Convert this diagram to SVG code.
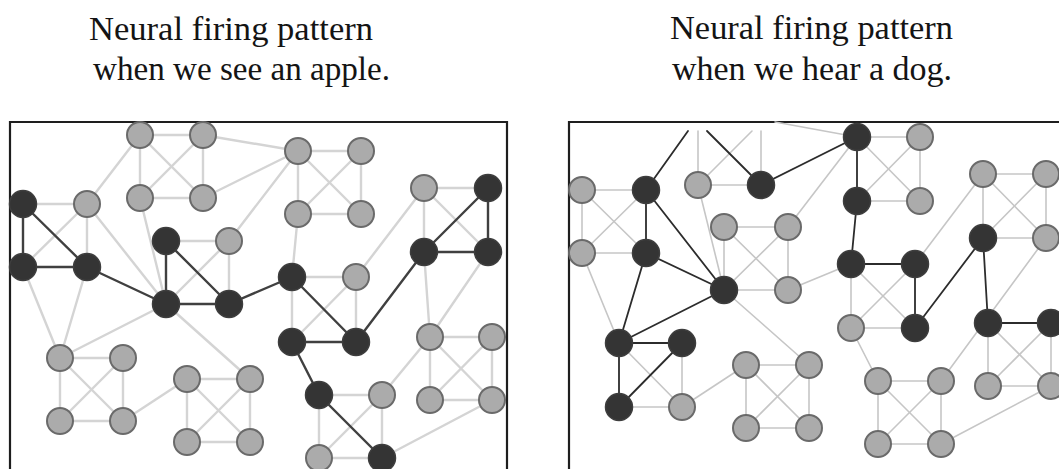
<svg xmlns="http://www.w3.org/2000/svg" width="1059" height="469" viewBox="0 0 1059 469">
<style>
.t{font-family:"Liberation Serif","Times New Roman",serif;font-size:33px;fill:#141414}
.frame{fill:none;stroke:#1e1e1e;stroke-width:2.2}
.ll line{stroke:#d4d4d4;stroke-width:2.4;stroke-linecap:round}
.ld line{stroke:#404040;stroke-width:2.4;stroke-linecap:round}
.rl line{stroke:#c6c6c6;stroke-width:1.6;stroke-linecap:round}
.rd line{stroke:#2c2c2c;stroke-width:1.8;stroke-linecap:round}
.g{fill:#ababab;stroke:#6a6a6a;stroke-width:2}
.d{fill:#343434;stroke:#3e3e3e;stroke-width:1.5}
</style>
<g id="titles">
<text class="t" x="89" y="40" textLength="284" lengthAdjust="spacingAndGlyphs">Neural firing pattern</text>
<text class="t" x="93" y="80" textLength="297" lengthAdjust="spacingAndGlyphs">when we see an apple.</text>
<text class="t" x="670" y="39" textLength="283" lengthAdjust="spacingAndGlyphs">Neural firing pattern</text>
<text class="t" x="672" y="80" textLength="280" lengthAdjust="spacingAndGlyphs">when we hear a dog.</text>
</g>
<g id="frames">
<path class="frame" d="M10,470 V122 H507 V470"/>
<path class="frame" d="M569,470 V122 H1060"/>
</g>
<g id="connectors">
<g class="ll">
<line x1="140" y1="135" x2="203" y2="135"/><line x1="140" y1="135" x2="140" y2="198"/><line x1="140" y1="135" x2="203" y2="198"/><line x1="203" y1="135" x2="140" y2="198"/><line x1="203" y1="135" x2="203" y2="198"/><line x1="140" y1="198" x2="203" y2="198"/>
<line x1="140" y1="135" x2="87" y2="204"/><line x1="203" y1="135" x2="298" y2="151"/><line x1="203" y1="198" x2="298" y2="151"/><line x1="229" y1="241" x2="298" y2="151"/><line x1="140" y1="198" x2="166" y2="304"/><line x1="87" y1="204" x2="166" y2="304"/>
<line x1="87" y1="204" x2="23" y2="204"/><line x1="87" y1="204" x2="87" y2="267"/><line x1="87" y1="204" x2="23" y2="267"/>
<line x1="166" y1="241" x2="229" y2="241"/><line x1="229" y1="241" x2="229" y2="304"/><line x1="229" y1="241" x2="166" y2="304"/>
<line x1="298" y1="151" x2="361" y2="151"/><line x1="298" y1="151" x2="298" y2="214"/><line x1="298" y1="151" x2="361" y2="214"/><line x1="361" y1="151" x2="298" y2="214"/><line x1="361" y1="151" x2="361" y2="214"/><line x1="298" y1="214" x2="361" y2="214"/><line x1="298" y1="214" x2="292" y2="277"/>
<line x1="424" y1="188" x2="488" y2="188"/><line x1="424" y1="188" x2="424" y2="252"/><line x1="424" y1="188" x2="488" y2="252"/><line x1="424" y1="188" x2="356" y2="277"/><line x1="424" y1="252" x2="430" y2="337"/><line x1="488" y1="252" x2="430" y2="337"/>
<line x1="292" y1="277" x2="356" y2="277"/><line x1="292" y1="277" x2="292" y2="342"/><line x1="356" y1="277" x2="292" y2="342"/><line x1="356" y1="277" x2="356" y2="342"/>
<line x1="60" y1="358" x2="123" y2="358"/><line x1="60" y1="358" x2="60" y2="421"/><line x1="60" y1="358" x2="123" y2="421"/><line x1="123" y1="358" x2="60" y2="421"/><line x1="123" y1="358" x2="123" y2="421"/><line x1="60" y1="421" x2="123" y2="421"/>
<line x1="23" y1="267" x2="60" y2="358"/><line x1="87" y1="267" x2="60" y2="358"/><line x1="60" y1="358" x2="166" y2="304"/><line x1="123" y1="421" x2="187" y2="379"/>
<line x1="187" y1="379" x2="250" y2="379"/><line x1="187" y1="379" x2="187" y2="442"/><line x1="187" y1="379" x2="250" y2="442"/><line x1="250" y1="379" x2="187" y2="442"/><line x1="250" y1="379" x2="250" y2="442"/><line x1="187" y1="442" x2="250" y2="442"/><line x1="166" y1="304" x2="250" y2="379"/>
<line x1="319" y1="395" x2="382" y2="395"/><line x1="319" y1="395" x2="319" y2="458"/><line x1="382" y1="395" x2="319" y2="458"/><line x1="382" y1="395" x2="382" y2="458"/><line x1="319" y1="458" x2="382" y2="458"/><line x1="382" y1="395" x2="430" y2="337"/><line x1="382" y1="458" x2="492" y2="400"/>
<line x1="430" y1="337" x2="492" y2="337"/><line x1="430" y1="337" x2="430" y2="400"/><line x1="430" y1="337" x2="492" y2="400"/><line x1="492" y1="337" x2="430" y2="400"/><line x1="492" y1="337" x2="492" y2="400"/><line x1="430" y1="400" x2="492" y2="400"/>
</g>
<g class="ld">
<line x1="23" y1="204" x2="23" y2="267"/><line x1="23" y1="204" x2="87" y2="267"/><line x1="23" y1="267" x2="87" y2="267"/><line x1="87" y1="267" x2="166" y2="304"/>
<line x1="166" y1="241" x2="166" y2="304"/><line x1="166" y1="241" x2="229" y2="304"/><line x1="166" y1="304" x2="229" y2="304"/><line x1="229" y1="304" x2="292" y2="277"/>
<line x1="292" y1="277" x2="356" y2="342"/><line x1="292" y1="342" x2="356" y2="342"/><line x1="356" y1="342" x2="424" y2="252"/><line x1="292" y1="342" x2="319" y2="395"/><line x1="319" y1="395" x2="382" y2="458"/>
<line x1="488" y1="188" x2="424" y2="252"/><line x1="488" y1="188" x2="488" y2="252"/><line x1="424" y1="252" x2="488" y2="252"/>
</g>
<g class="rl">
<line x1="582" y1="190" x2="646" y2="190"/><line x1="582" y1="190" x2="582" y2="253"/><line x1="582" y1="190" x2="646" y2="253"/><line x1="646" y1="190" x2="582" y2="253"/><line x1="582" y1="253" x2="646" y2="253"/><line x1="582" y1="253" x2="619" y2="343"/>
<line x1="698" y1="131" x2="698" y2="185"/><line x1="752" y1="131" x2="698" y2="185"/><line x1="761" y1="131" x2="761" y2="185"/><line x1="775" y1="122" x2="857" y2="137"/>
<line x1="698" y1="185" x2="761" y2="185"/><line x1="698" y1="185" x2="724" y2="290"/>
<line x1="724" y1="227" x2="788" y2="227"/><line x1="724" y1="227" x2="724" y2="290"/><line x1="724" y1="227" x2="788" y2="290"/><line x1="788" y1="227" x2="724" y2="290"/><line x1="788" y1="227" x2="788" y2="290"/><line x1="724" y1="290" x2="788" y2="290"/>
<line x1="788" y1="227" x2="857" y2="137"/><line x1="788" y1="290" x2="851" y2="264"/><line x1="724" y1="290" x2="809" y2="365"/>
<line x1="857" y1="137" x2="920" y2="137"/><line x1="857" y1="137" x2="920" y2="201"/><line x1="920" y1="137" x2="857" y2="201"/><line x1="920" y1="137" x2="920" y2="201"/><line x1="857" y1="201" x2="920" y2="201"/>
<line x1="851" y1="264" x2="851" y2="328"/><line x1="851" y1="264" x2="915" y2="328"/><line x1="915" y1="264" x2="851" y2="328"/><line x1="851" y1="328" x2="915" y2="328"/><line x1="915" y1="264" x2="983" y2="174"/><line x1="851" y1="328" x2="878" y2="381"/>
<line x1="983" y1="174" x2="1046" y2="174"/><line x1="983" y1="174" x2="983" y2="238"/><line x1="983" y1="174" x2="1046" y2="238"/><line x1="1046" y1="174" x2="983" y2="238"/><line x1="1046" y1="174" x2="1046" y2="238"/><line x1="983" y1="238" x2="1046" y2="238"/><line x1="1046" y1="238" x2="941" y2="381"/>
<line x1="988" y1="323" x2="988" y2="386"/><line x1="988" y1="323" x2="1051" y2="386"/><line x1="1051" y1="323" x2="988" y2="386"/><line x1="1051" y1="323" x2="1051" y2="386"/><line x1="988" y1="386" x2="1051" y2="386"/><line x1="1051" y1="386" x2="941" y2="444"/>
<line x1="878" y1="381" x2="941" y2="381"/><line x1="878" y1="381" x2="878" y2="444"/><line x1="878" y1="381" x2="941" y2="444"/><line x1="941" y1="381" x2="878" y2="444"/><line x1="941" y1="381" x2="941" y2="444"/><line x1="878" y1="444" x2="941" y2="444"/>
<line x1="619" y1="343" x2="682" y2="407"/><line x1="682" y1="343" x2="682" y2="407"/><line x1="619" y1="407" x2="682" y2="407"/><line x1="682" y1="407" x2="746" y2="365"/>
<line x1="746" y1="365" x2="809" y2="365"/><line x1="746" y1="365" x2="746" y2="428"/><line x1="746" y1="365" x2="809" y2="428"/><line x1="809" y1="365" x2="746" y2="428"/><line x1="809" y1="365" x2="809" y2="428"/><line x1="746" y1="428" x2="809" y2="428"/>
</g>
<g class="rd">
<line x1="688" y1="131" x2="646" y2="190"/><line x1="707" y1="131" x2="761" y2="185"/>
<line x1="646" y1="190" x2="646" y2="253"/><line x1="646" y1="190" x2="724" y2="290"/><line x1="646" y1="253" x2="724" y2="290"/><line x1="646" y1="253" x2="619" y2="343"/>
<line x1="761" y1="185" x2="857" y2="137"/><line x1="857" y1="137" x2="857" y2="201"/><line x1="857" y1="201" x2="851" y2="264"/><line x1="851" y1="264" x2="915" y2="264"/><line x1="915" y1="264" x2="915" y2="328"/><line x1="915" y1="328" x2="983" y2="238"/><line x1="983" y1="238" x2="988" y2="323"/><line x1="988" y1="323" x2="1051" y2="323"/>
<line x1="724" y1="290" x2="619" y2="343"/><line x1="619" y1="343" x2="682" y2="343"/><line x1="619" y1="343" x2="619" y2="407"/><line x1="682" y1="343" x2="619" y2="407"/>
</g>
</g>
<g id="L-A1"><circle class="g" cx="140" cy="135" r="13"/></g>
<g id="L-A2"><circle class="g" cx="203" cy="135" r="13"/></g>
<g id="L-A3"><circle class="g" cx="140" cy="198" r="13"/></g>
<g id="L-A4"><circle class="g" cx="203" cy="198" r="13"/></g>
<g id="L-D1"><circle class="d" cx="23" cy="204" r="13.5"/></g>
<g id="L-G1"><circle class="g" cx="87" cy="204" r="13"/></g>
<g id="L-D2"><circle class="d" cx="23" cy="267" r="13.5"/></g>
<g id="L-D3"><circle class="d" cx="87" cy="267" r="13.5"/></g>
<g id="L-D4"><circle class="d" cx="166" cy="241" r="13.5"/></g>
<g id="L-G2"><circle class="g" cx="229" cy="241" r="13"/></g>
<g id="L-M1"><circle class="d" cx="166" cy="304" r="13.5"/></g>
<g id="L-M2"><circle class="d" cx="229" cy="304" r="13.5"/></g>
<g id="L-B1"><circle class="g" cx="298" cy="151" r="13"/></g>
<g id="L-B2"><circle class="g" cx="361" cy="151" r="13"/></g>
<g id="L-B3"><circle class="g" cx="298" cy="214" r="13"/></g>
<g id="L-B4"><circle class="g" cx="361" cy="214" r="13"/></g>
<g id="L-K1"><circle class="d" cx="292" cy="277" r="13.5"/></g>
<g id="L-L1"><circle class="g" cx="356" cy="277" r="13"/></g>
<g id="L-K2"><circle class="d" cx="292" cy="342" r="13.5"/></g>
<g id="L-L2"><circle class="d" cx="356" cy="342" r="13.5"/></g>
<g id="L-C1"><circle class="g" cx="424" cy="188" r="13"/></g>
<g id="L-C2"><circle class="d" cx="488" cy="188" r="13.5"/></g>
<g id="L-C3"><circle class="d" cx="424" cy="252" r="13.5"/></g>
<g id="L-C4"><circle class="d" cx="488" cy="252" r="13.5"/></g>
<g id="L-E1"><circle class="g" cx="60" cy="358" r="13"/></g>
<g id="L-E2"><circle class="g" cx="123" cy="358" r="13"/></g>
<g id="L-E3"><circle class="g" cx="60" cy="421" r="13"/></g>
<g id="L-E4"><circle class="g" cx="123" cy="421" r="13"/></g>
<g id="L-F1"><circle class="g" cx="187" cy="379" r="13"/></g>
<g id="L-F2"><circle class="g" cx="250" cy="379" r="13"/></g>
<g id="L-F3"><circle class="g" cx="187" cy="442" r="13"/></g>
<g id="L-F4"><circle class="g" cx="250" cy="442" r="13"/></g>
<g id="L-H1"><circle class="d" cx="319" cy="395" r="13.5"/></g>
<g id="L-H2"><circle class="g" cx="382" cy="395" r="13"/></g>
<g id="L-H3"><circle class="g" cx="319" cy="458" r="13"/></g>
<g id="L-H4"><circle class="d" cx="382" cy="458" r="13.5"/></g>
<g id="L-I1"><circle class="g" cx="430" cy="337" r="13"/></g>
<g id="L-I2"><circle class="g" cx="492" cy="337" r="13"/></g>
<g id="L-I3"><circle class="g" cx="430" cy="400" r="13"/></g>
<g id="L-I4"><circle class="g" cx="492" cy="400" r="13"/></g>
<g id="R-R1"><circle class="g" cx="582" cy="190" r="13"/></g>
<g id="R-R2"><circle class="d" cx="646" cy="190" r="13.5"/></g>
<g id="R-R3"><circle class="g" cx="582" cy="253" r="13"/></g>
<g id="R-R4"><circle class="d" cx="646" cy="253" r="13.5"/></g>
<g id="R-S1"><circle class="g" cx="698" cy="185" r="13"/></g>
<g id="R-S2"><circle class="d" cx="761" cy="185" r="13.5"/></g>
<g id="R-T1"><circle class="g" cx="724" cy="227" r="13"/></g>
<g id="R-T2"><circle class="g" cx="788" cy="227" r="13"/></g>
<g id="R-T3"><circle class="d" cx="724" cy="290" r="13.5"/></g>
<g id="R-T4"><circle class="g" cx="788" cy="290" r="13"/></g>
<g id="R-U1"><circle class="d" cx="857" cy="137" r="13.5"/></g>
<g id="R-U2"><circle class="g" cx="920" cy="137" r="13"/></g>
<g id="R-U3"><circle class="d" cx="857" cy="201" r="13.5"/></g>
<g id="R-U4"><circle class="g" cx="920" cy="201" r="13"/></g>
<g id="R-V1"><circle class="d" cx="851" cy="264" r="13.5"/></g>
<g id="R-V2"><circle class="d" cx="915" cy="264" r="13.5"/></g>
<g id="R-V3"><circle class="g" cx="851" cy="328" r="13"/></g>
<g id="R-V4"><circle class="d" cx="915" cy="328" r="13.5"/></g>
<g id="R-W1"><circle class="g" cx="983" cy="174" r="13"/></g>
<g id="R-W2"><circle class="g" cx="1046" cy="174" r="13"/></g>
<g id="R-W3"><circle class="d" cx="983" cy="238" r="13.5"/></g>
<g id="R-W4"><circle class="g" cx="1046" cy="238" r="13"/></g>
<g id="R-X1"><circle class="d" cx="988" cy="323" r="13.5"/></g>
<g id="R-X2"><circle class="d" cx="1051" cy="323" r="13.5"/></g>
<g id="R-X3"><circle class="g" cx="988" cy="386" r="13"/></g>
<g id="R-X4"><circle class="g" cx="1051" cy="386" r="13"/></g>
<g id="R-Y1"><circle class="g" cx="878" cy="381" r="13"/></g>
<g id="R-Y2"><circle class="g" cx="941" cy="381" r="13"/></g>
<g id="R-Y3"><circle class="g" cx="878" cy="444" r="13"/></g>
<g id="R-Y4"><circle class="g" cx="941" cy="444" r="13"/></g>
<g id="R-Z1"><circle class="d" cx="619" cy="343" r="13.5"/></g>
<g id="R-Z2"><circle class="d" cx="682" cy="343" r="13.5"/></g>
<g id="R-Z3"><circle class="d" cx="619" cy="407" r="13.5"/></g>
<g id="R-Z4"><circle class="g" cx="682" cy="407" r="13"/></g>
<g id="R-Q1"><circle class="g" cx="746" cy="365" r="13"/></g>
<g id="R-Q2"><circle class="g" cx="809" cy="365" r="13"/></g>
<g id="R-Q3"><circle class="g" cx="746" cy="428" r="13"/></g>
<g id="R-Q4"><circle class="g" cx="809" cy="428" r="13"/></g>
</svg>
